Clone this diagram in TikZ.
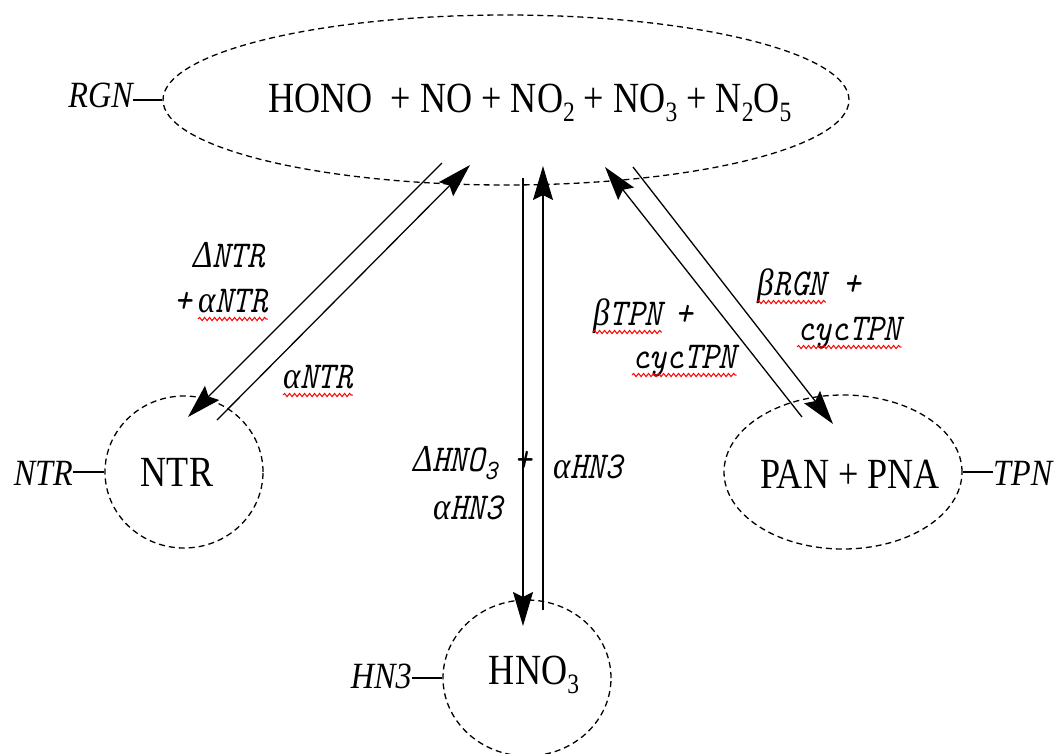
\documentclass[tikz,border=0pt]{standalone}
\usepackage{fontspec}
\usepackage{graphicx}
\setmainfont{Liberation Serif}
\newfontfamily\grk{Liberation Serif}
\usetikzlibrary{shapes.geometric,arrows.meta,decorations.pathmorphing,calc}
\newcommand\hsq[1]{\scalebox{0.87}[1]{#1}}
\newcommand\bsq[1]{\scalebox{0.84}[1]{#1}}
\newcommand\sbs[1]{\raisebox{-0.22em}{\fontsize{28}{28}\selectfont #1}}
\newcommand\gl[1]{{\grk\itshape #1}}
\tikzset{
 ell/.style={draw, ellipse, dash pattern=on 6pt off 4pt, line width=1.3pt, inner sep=0pt},
 bigtxt/.style={inner sep=0pt, font=\fontsize{43}{43}\selectfont},
 sidelab/.style={inner sep=0pt, font=\fontsize{37}{37}\selectfont\itshape},
 arrlab/.style={inner sep=0pt, font=\ttfamily\itshape\fontsize{38}{38}\selectfont},
 flow/.style={line width=1.3pt, -{Stealth[length=34pt,width=20pt,inset=5pt]}},
 tick/.style={line width=1.3pt},
 squig/.style={red, line width=1pt, decorate, decoration={snake, segment length=5pt, amplitude=1.6pt}}
}
\begin{document}
\begin{tikzpicture}[x=1pt,y=-1pt]
\useasboundingbox (0,0) rectangle (1061,753);
\fill[white] (0,0) rectangle (1061,753);
% ellipses
\node[ell, minimum width=686pt, minimum height=170pt] (rgn) at (506,100) {};
\node[ell, minimum width=158pt, minimum height=152pt] (ntr) at (184,472) {};
\node[ell, minimum width=168pt, minimum height=156pt] (hn3) at (527,678) {};
\node[ell, minimum width=238pt, minimum height=154pt] (tpn) at (843,472) {};
% main texts
\node[bigtxt, anchor=base] (rgnt) at (530,112) {\bsq{HONO \ + NO + NO\sbs{2} + NO\sbs{3} + N\sbs{2}O\sbs{5}}};
\node[bigtxt, anchor=base] (ntrt) at (177,486) {\bsq{NTR}};
\node[bigtxt, anchor=base] (hn3t) at (534,684) {\bsq{HNO\sbs{3}}};
\node[bigtxt, anchor=base] (tpnt) at (850,488) {\bsq{PAN + PNA}};
% side labels
\node[sidelab, anchor=base east] (rgnl) at (133,107) {\hsq{RGN}};
\draw[tick] (rgnl.east |- rgn.west) -- (rgn.west);
\node[sidelab, anchor=base east] (ntrl) at (73,485) {\hsq{NTR}};
\draw[tick] (ntrl.east |- ntr.west) -- (ntr.west);
\node[sidelab, anchor=base east] (hn3l) at (412,688) {\hsq{HN3}};
\draw[tick] (hn3l.east |- hn3.west) -- (hn3.west);
\node[sidelab, anchor=base west] (tpnl) at (993,485) {\hsq{TPN}};
\draw[tick] (tpn.east) -- (tpn.east -| tpnl.west);
% connectors
\coordinate (l1s) at (442,163); \coordinate (l1e) at (188,417);
\coordinate (l2s) at (217,420); \coordinate (l2e) at (470,165);
\coordinate (m1s) at (523,178); \coordinate (m1e) at (523,626);
\coordinate (m2s) at (543,610); \coordinate (m2e) at (543,166);
\coordinate (r1s) at (802,417); \coordinate (r1e) at (605,167);
\coordinate (r2s) at (633,167); \coordinate (r2e) at (833,424);
\draw[flow] (l1s) -- (l1e);
\draw[flow] (l2s) -- (l2e);
\draw[flow] (m1s) -- (m1e);
\draw[flow] (m2s) -- (m2e);
\draw[flow] (r1s) -- (r1e);
\draw[flow] (r2s) -- (r2e);
% arrow labels
\node[arrlab, anchor=base west] (dntr) at (193,267) {\hsq{\gl{Δ}NTR}};
\node[arrlab, anchor=base east] (pl1) at (192,312) {\hsq{+}};
\node[arrlab, anchor=base west] (antr1) at (198,312) {\hsq{\gl{α}NTR}};
\node[arrlab, anchor=base west] (antr2) at (283,388) {\hsq{\gl{α}NTR}};
\node[arrlab, anchor=base west] (dhno) at (413,471) {\hsq{\gl{Δ}HNO\sbs{3} +}};
\node[arrlab, anchor=base west] (ahn1) at (433,519) {\hsq{\gl{α}HN3}};
\node[arrlab, anchor=base west] (ahn2) at (553,478) {\hsq{\gl{α}HN3}};
\node[arrlab, anchor=base west] (btpn) at (593,325) {\hsq{\gl{β}TPN}};
\node[arrlab, anchor=base west] (pl2) at (675,325) {\hsq{+}};
\node[arrlab, anchor=base west] (ctpn1) at (632,368) {\hsq{cycTPN}};
\node[arrlab, anchor=base west] (brgn) at (757,295) {\hsq{\gl{β}RGN}};
\node[arrlab, anchor=base west] (pl3) at (843,295) {\hsq{+}};
\node[arrlab, anchor=base west] (ctpn2) at (797,340) {\hsq{cycTPN}};
% spell-check squiggles
\foreach \n in {antr1,antr2,btpn,ctpn1,brgn,ctpn2}
  \draw[squig] ([yshift=-7pt]\n.base west) -- ([yshift=-7pt]\n.base east);
\end{tikzpicture}
\end{document}
